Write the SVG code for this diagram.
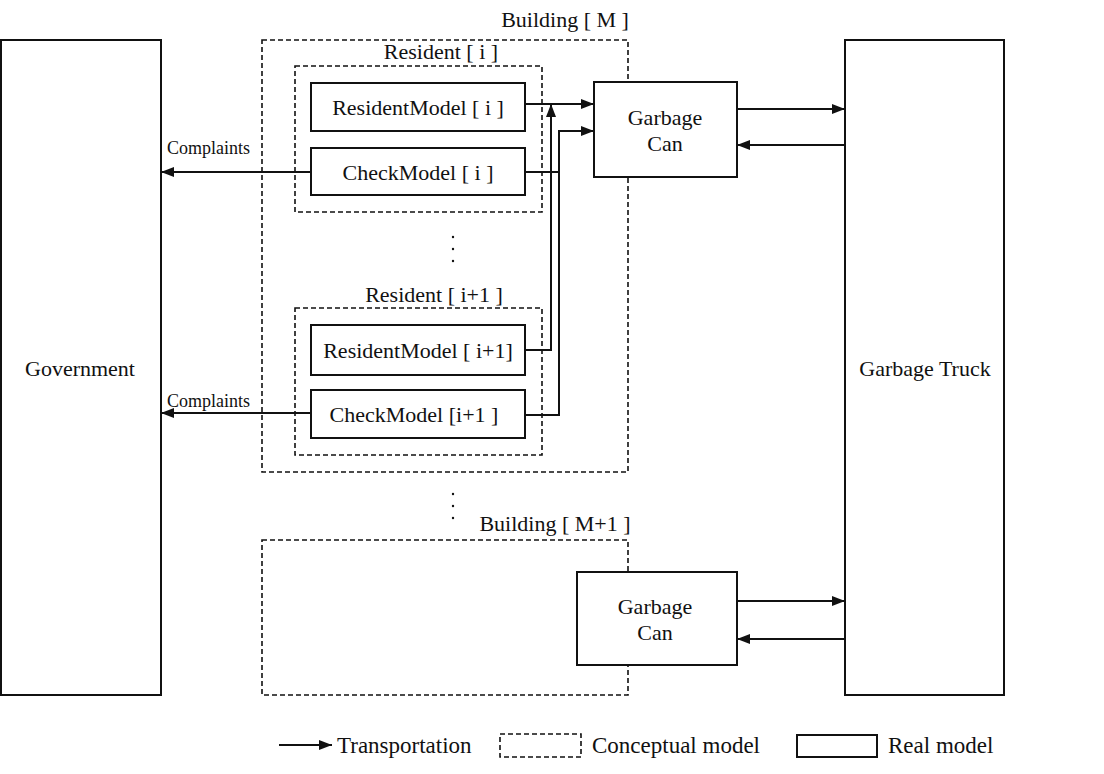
<svg xmlns="http://www.w3.org/2000/svg" width="1104" height="774" viewBox="0 0 1104 774">
<style>
text{font-family:"Liberation Serif","Times New Roman",serif;fill:#111;font-size:22px}
.c{text-anchor:middle}
.sm{font-size:18px}
.lg{font-size:23px}
.real{fill:#fff;stroke:#111;stroke-width:2}
.concept{fill:none;stroke:#111;stroke-width:1.6;stroke-dasharray:5,3}
.ln{fill:none;stroke:#111;stroke-width:2}
.dot{fill:#111}
</style>
<defs>
<marker id="ah" viewBox="0 0 13 10" refX="13" refY="5" markerWidth="13" markerHeight="10" markerUnits="userSpaceOnUse" orient="auto">
<path d="M0,0 L13,5 L0,10 z" fill="#111"/>
</marker>
</defs>
<rect width="1104" height="774" fill="#fff"/>

<g id="government"><rect class="real" x="1" y="40" width="160" height="655"/><text class="c" x="80" y="376">Government</text></g>
<g id="garbage-truck"><rect class="real" x="845" y="40" width="159" height="655"/><text class="c" x="925" y="376">Garbage Truck</text></g>

<g id="building-m"><rect class="concept" x="262" y="40" width="366" height="432"/><text class="c" x="565" y="27">Building [ M ]</text></g>
<g id="resident-i"><rect class="concept" x="295" y="66" width="247" height="146"/><text class="c" x="441" y="59">Resident [ i ]</text></g>
<g id="resident-model-i"><rect class="real" x="311" y="83" width="214" height="48"/><text class="c" x="418" y="115">ResidentModel [ i ]</text></g>
<g id="check-model-i"><rect class="real" x="311" y="148" width="214" height="47"/><text class="c" x="418" y="180">CheckModel [ i ]</text></g>
<g id="resident-i1"><rect class="concept" x="295" y="308" width="247" height="147"/><text class="c" x="434" y="302">Resident [ i+1 ]</text></g>
<g id="resident-model-i1"><rect class="real" x="311" y="325" width="214" height="50"/><text class="c" x="418" y="358">ResidentModel [ i+1]</text></g>
<g id="check-model-i1"><rect class="real" x="311" y="390" width="214" height="48"/><text class="c" x="414" y="422">CheckModel [i+1 ]</text></g>
<g id="garbage-can-m"><rect class="real" x="594" y="82" width="143" height="95"/><text class="c" x="665" y="125">Garbage</text><text class="c" x="665" y="151">Can</text></g>

<g id="building-m1"><rect class="concept" x="262" y="540" width="366" height="155"/><text class="c" x="555" y="531">Building [ M+1 ]</text></g>
<g id="garbage-can-m1"><rect class="real" x="577" y="572" width="160" height="93"/><text class="c" x="655" y="614">Garbage</text><text class="c" x="655" y="640">Can</text></g>

<g id="ellipsis">
<circle class="dot" cx="453" cy="237" r="1.2"/><circle class="dot" cx="453" cy="249" r="1.2"/><circle class="dot" cx="453" cy="261" r="1.2"/>
<circle class="dot" cx="453" cy="494" r="1.2"/><circle class="dot" cx="453" cy="506" r="1.2"/><circle class="dot" cx="453" cy="518" r="1.2"/>
</g>

<g id="connectors">
<path class="ln" d="M525,104 H594" marker-end="url(#ah)"/>
<path class="ln" d="M525,350 H551 V104" marker-end="url(#ah)"/>
<path class="ln" d="M525,415 H559 V131 H594" marker-end="url(#ah)"/>
<path class="ln" d="M525,172 H559"/>
<path class="ln" d="M311,172 H161" marker-end="url(#ah)"/>
<path class="ln" d="M311,413 H161" marker-end="url(#ah)"/>
<path class="ln" d="M737,109 H845" marker-end="url(#ah)"/>
<path class="ln" d="M845,145 H737" marker-end="url(#ah)"/>
<path class="ln" d="M737,601 H845" marker-end="url(#ah)"/>
<path class="ln" d="M845,639 H737" marker-end="url(#ah)"/>
<text class="sm" x="167" y="154">Complaints</text>
<text class="sm" x="167" y="407">Complaints</text>
</g>

<g id="legend">
<path class="ln" d="M279,745 H332" marker-end="url(#ah)"/>
<text class="lg" x="337" y="753">Transportation</text>
<rect class="concept" x="500" y="734" width="81" height="23"/>
<text class="lg" x="592" y="753">Conceptual model</text>
<rect class="real" x="797" y="735" width="80" height="22"/>
<text class="lg" x="888" y="753">Real model</text>
</g>
</svg>
